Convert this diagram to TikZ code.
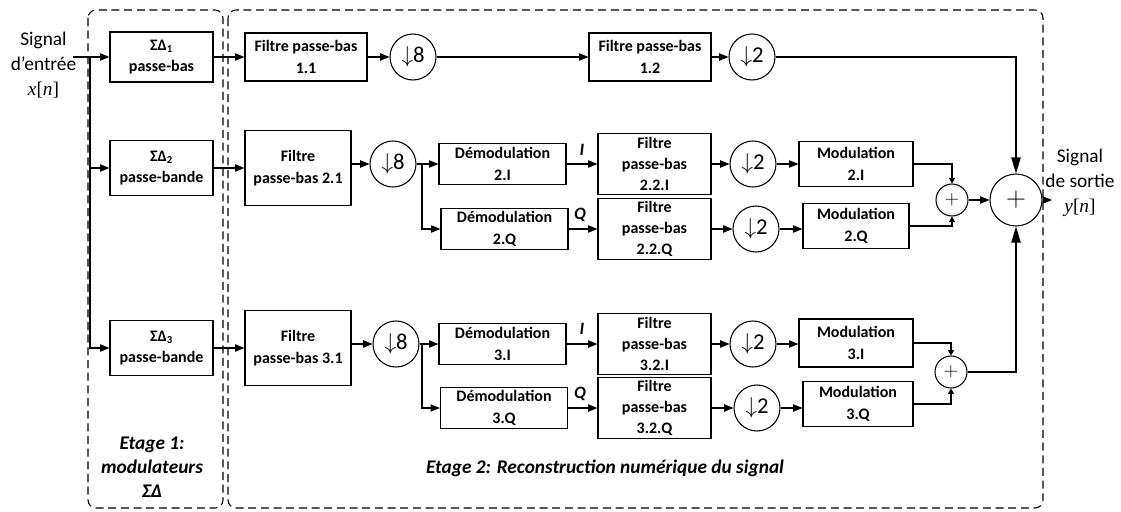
\documentclass[tikz,border=0pt]{standalone}
\usepackage{fontspec}
\setmainfont{Carlito}
\newfontfamily\timesfont{Liberation Serif}
\usetikzlibrary{arrows.meta,positioning}
\newcommand\boxfont{\fontsize{12}{16}\selectfont\bfseries}
\newcommand\sigfont{\fontsize{14.5}{18.75}\selectfont}
\newcommand\etagefont{\fontsize{14.5}{18}\selectfont\bfseries\itshape}

\begin{document}
\begin{tikzpicture}[
    x=0.75pt, y=-0.75pt,
    every node/.style={inner sep=0pt},
    block/.style={draw, line width=0.9pt, align=center, font=\boxfont},
    sdbox/.style={block, minimum width=77.25pt, minimum height=41pt},
    filtre/.style={block, minimum width=91.5pt, minimum height=36pt},
    filtrebig/.style={block, minimum width=79.5pt, minimum height=56.25pt},
    demod/.style={block, minimum width=95.25pt, minimum height=30.75pt},
    filtreiq/.style={block, minimum width=84.75pt, minimum height=45.75pt},
    modbox/.style={block, minimum width=85.5pt, minimum height=34pt},
    down/.style={draw, circle, line width=0.8pt, minimum size=34.5pt, font=\fontsize{17}{17}\selectfont},
    sumbig/.style={draw, circle, line width=0.8pt, minimum size=39pt, font=\fontsize{20}{20}\selectfont},
    sumsmall/.style={draw, circle, line width=0.8pt, minimum size=24pt, font=\fontsize{15}{15}\selectfont},
    line/.style={draw, line width=0.8pt, -{Triangle[length=7pt, width=5.5pt]}},
    bigline/.style={draw, line width=0.8pt, -{Triangle[length=12pt, width=7pt]}},
    smallline/.style={draw, line width=0.8pt, -{Triangle[length=4pt, width=4.5pt]}},
    frame/.style={draw, dash pattern=on 6pt off 3.5pt, line width=0.8pt, rounded corners=6pt},
    iq/.style={font=\fontsize{13}{13}\selectfont\bfseries\itshape}
  ]
    \useasboundingbox (0,0) rectangle (1121,511);

    % Frames
    \draw[frame] (88,10) rectangle (223,508);
    \draw[frame] (228,10) rectangle (1043,508);

    % Input
    \node[font=\sigfont, align=center] (inlbl) at (43.5,65) {Signal\\d’entrée\\{\timesfont\textit{x}[\textit{n}]}};
    \coordinate (xin) at (73,57);
    \coordinate (split) at (90,57);

    % Etage 1
    \node[sdbox, minimum height=37.5pt] (sd1) at (161.5,57) {ΣΔ\textsubscript{1}\\passe-bas};
    \node[sdbox] (sd2) at (161.5,168) {ΣΔ\textsubscript{2}\\passe-bande};
    \node[sdbox] (sd3) at (161.5,348) {ΣΔ\textsubscript{3}\\passe-bande};
    \node[font=\etagefont, align=center] (et1) at (152,467) {Etage 1:\\modulateurs\\ΣΔ};

    % Nodes Row 1
    \node[filtre] (f11) at (306,57) {Filtre passe-bas\\1.1};
    \node[down] (d11) at (413,57) {$\downarrow$8};
    \node[filtre] (f12) at (650,57) {Filtre passe-bas\\1.2};
    \node[down] (d12) at (752,57) {$\downarrow$2};

    % Nodes Row 2
    \node[filtrebig] (f21) at (298,168) {Filtre\\passe-bas 2.1};
    \node[down] (d21) at (393,164) {$\downarrow$8};
    \coordinate (br2) at (422,164);
    \node[demod] (dm2i) at (502.5,164) {Démodulation\\2.I};
    \node[demod] (dm2q) at (504.5,229) {Démodulation\\2.Q};
    \node[iq] (li2) at (582,150) {I};
    \node[iq] (lq2) at (580,215) {Q};
    \node[filtreiq] (f2i) at (654.5,164) {Filtre\\passe-bas\\2.2.I};
    \node[filtreiq] (f2q) at (654.5,229) {Filtre\\passe-bas\\2.2.Q};
    \node[down] (d2i) at (753,164) {$\downarrow$2};
    \node[down] (d2q) at (756,229) {$\downarrow$2};
    \node[modbox] (mod2i) at (856,164) {Modulation\\2.I};
    \node[modbox, minimum width=79.5pt] (mod2q) at (856,226) {Modulation\\2.Q};
    \node[sumsmall] (s2) at (952,200) {$+$};

    % Nodes Row 3
    \node[filtrebig] (f31) at (298,348) {Filtre\\passe-bas 3.1};
    \node[down] (d31) at (396,344) {$\downarrow$8};
    \coordinate (br3) at (422,344);
    \node[demod] (dm3i) at (502.5,344) {Démodulation\\3.I};
    \node[demod] (dm3q) at (504,408) {Démodulation\\3.Q};
    \node[iq] (li3) at (582,329) {I};
    \node[iq] (lq3) at (580,394) {Q};
    \node[filtreiq] (f3i) at (654.5,344) {Filtre\\passe-bas\\3.2.I};
    \node[filtreiq] (f3q) at (654.5,408) {Filtre\\passe-bas\\3.2.Q};
    \node[down] (d3i) at (753,344) {$\downarrow$2};
    \node[down] (d3q) at (757,408) {$\downarrow$2};
    \node[modbox, minimum height=36pt] (mod3i) at (856,343) {Modulation\\3.I};
    \node[modbox, minimum width=82.5pt] (mod3q) at (858,404) {Modulation\\3.Q};
    \node[sumsmall] (s3) at (951,372) {$+$};
    \node[font=\etagefont] (et2) at (605,468) {Etage 2: Reconstruction numérique du signal};

    % Output
    \node[sumbig] (sout) at (1016,200) {$+$};
    \coordinate (yout) at (1052,200);
    \node[font=\sigfont, align=center] (outlbl) at (1080,183) {Signal\\de sortie\\{\timesfont\textit{y}[\textit{n}]}};

    % Edges Etage 1
    \draw[line] (xin) -- (sd1);
    \draw[line] (split) |- (sd2);
    \draw[line] (split) |- (sd3);

    % Edges Row 1
    \draw[line] (sd1) -- (f11);
    \draw[line] (f11) -- (d11);
    \draw[line] (d11) -- (f12);
    \draw[line] (f12) -- (d12);
    \draw[bigline] (d12) -| (sout);

    % Edges Row 2
    \draw[line] (sd2) -- (f21);
    \draw[line] (f21.east |- d21) -- (d21);
    \draw[line width=0.8pt] (d21) -- (br2);
    \draw[line] (br2) -- (dm2i);
    \draw[line] (br2) |- (dm2q);
    \draw[line] (dm2i) -- (f2i);
    \draw[line] (dm2q) -- (f2q);
    \draw[line] (f2i) -- (d2i);
    \draw[line] (f2q) -- (d2q);
    \draw[line] (d2i) -- (mod2i);
    \draw[line] (d2q) -- (mod2q.west |- d2q);
    \draw[smallline] (mod2i) -| (s2);
    \draw[smallline] (mod2q) -| (s2);
    \draw[line] (s2) -- (sout);

    % Edges Row 3
    \draw[line] (sd3) -- (f31);
    \draw[line] (f31.east |- d31) -- (d31);
    \draw[line width=0.8pt] (d31) -- (br3);
    \draw[line] (br3) -- (dm3i);
    \draw[line] (br3) |- (dm3q);
    \draw[line] (dm3i) -- (f3i);
    \draw[line] (dm3q) -- (f3q);
    \draw[line] (f3i) -- (d3i);
    \draw[line] (f3q) -- (d3q);
    \draw[line] (d3i) -- (mod3i.west |- d3i);
    \draw[line] (d3q) -- (mod3q.west |- d3q);
    \draw[smallline] (mod3i) -| (s3);
    \draw[smallline] (mod3q) -| (s3);
    \draw[bigline] (s3) -| (sout);

    % Output edge
    \draw[line] (sout) -- (yout);
  \end{tikzpicture}
\end{document}
